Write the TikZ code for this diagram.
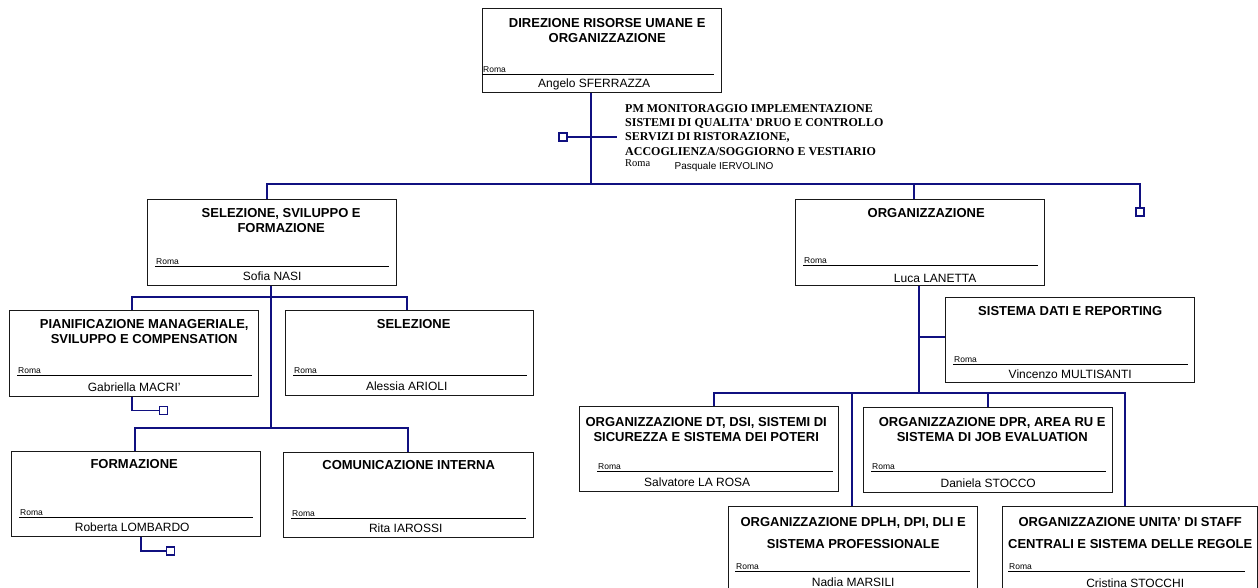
\documentclass[tikz,border=0pt]{standalone}
\usepackage{fontspec}
\setmainfont{Liberation Sans}
\newfontfamily\pmserif{Liberation Serif}
\definecolor{navy}{RGB}{16,16,128}
\tikzset{
 conn/.style={draw=navy, line width=1.4pt},
 obox/.style={draw=black!90, line width=1.4pt, inner sep=0pt},
 rulel/.style={draw=black, line width=1.3pt},
 romat/.style={font=\fontsize{8.5}{9}\selectfont, inner sep=0pt},
 namet/.style={font=\fontsize{12}{14}\selectfont, inner sep=0pt},
 titlet/.style={inner sep=0pt, align=center},
 pmt/.style={font=\pmserif\bfseries\fontsize{12}{14.3}\selectfont, align=left, inner sep=0pt},
 sqr/.style={draw=navy, line width=1.4pt, minimum size=8pt, inner sep=0pt, fill=white},
}
\newcommand\orgbox[8][]{%
 \begingroup
 \def\obrl{8}\def\obrr{7}\def\obro{20}\def\obtx{0}\def\obts{14}\def\obtb{15}\def\obnx{0}\def\obny{6}#1%
 \node[obox, anchor=north west, minimum width={(#5-#3)*1pt}, minimum height={(#6-#4)*1pt}] (#2) at (#3,#4) {};
 \node[titlet, anchor=north, font={\fontsize{13}{\obtb}\selectfont\bfseries}] (#2-t) at ([xshift=\obtx pt, yshift={(4.65-\obts)*1pt}]#2.north) {#7};
 \draw[rulel] ([xshift=\obrl pt, yshift=\obro pt]#2.south west) -- ([xshift=-\obrr pt, yshift=\obro pt]#2.south east);
 \node[romat, anchor=base west] (#2-r) at ([xshift={(\obrl+1)*1pt}, yshift={(\obro+2)*1pt}]#2.south west) {Roma};
 \node[namet, anchor=base] (#2-n) at ([xshift=\obnx pt, yshift=\obny pt]#2.south) {#8};
 \endgroup}
\begin{document}
\begin{tikzpicture}[x=1pt,y=-1pt]
\useasboundingbox (0,0) rectangle (1258,588);
\clip (0,0) rectangle (1258,588);

% boxes
\orgbox[\def\obrl{0}\def\obrr{8}\def\obts{15}\def\obtx{5}\def\obnx{-8}\def\obro{19}]{dir}{482}{8}{721}{92}{DIREZIONE RISORSE UMANE E\\ORGANIZZAZIONE}{Angelo SFERRAZZA}
\orgbox[\def\obtx{9}\def\obrr{8}]{svil}{147}{199}{396}{285}{SELEZIONE, SVILUPPO E\\FORMAZIONE}{Sofia NASI}
\orgbox[\def\obtx{10}\def\obro{22}]{pian}{9}{310}{258}{396}{PIANIFICAZIONE MANAGERIALE,\\SVILUPPO E COMPENSATION}{Gabriella MACRI'}
\orgbox[\def\obtx{4}\def\obnx{-3}\def\obro{21}]{selz}{285}{310}{533}{395}{SELEZIONE}{Alessia ARIOLI}
\orgbox[\def\obtx{-2}\def\obnx{-4}\def\obts{13}\def\obrr{8}]{form}{11}{451}{260}{536}{FORMAZIONE}{Roberta LOMBARDO}
\orgbox[\def\obts{13}\def\obrr{8}\def\obnx{-3}]{com}{283}{452}{533}{537}{COMUNICAZIONE INTERNA}{Rita IAROSSI}
\orgbox[\def\obtx{6}\def\obnx{15}\def\obro{21}\def\obny{4}]{org}{795}{199}{1044}{285}{ORGANIZZAZIONE}{Luca LANETTA}
\orgbox[\def\obro{19}\def\obny{5}]{sist}{945}{297}{1194}{382}{SISTEMA DATI E REPORTING}{Vincenzo MULTISANTI}
\orgbox[\def\obrl{18}\def\obrr{6}\def\obts{16}\def\obtx{-3}\def\obnx{-12}\def\obro{21}]{dt}{579}{406}{838}{491}{ORGANIZZAZIONE DT, DSI, SISTEMI DI\\SICUREZZA E SISTEMA DEI POTERI}{Salvatore LA ROSA}
\orgbox[\def\obts{15}\def\obtx{4}\def\obro{22}]{dpr}{863}{407}{1112}{492}{ORGANIZZAZIONE DPR, AREA RU E\\SISTEMA DI JOB EVALUATION}{Daniela STOCCO}
\orgbox[\def\obrl{7}\def\obrr{8}\def\obts{16}\def\obtb{22}\def\obro{22}\def\obny{7}]{dplh}{728}{506}{977}{592}{ORGANIZZAZIONE DPLH, DPI, DLI E\\SISTEMA PROFESSIONALE}{Nadia MARSILI}
\orgbox[\def\obrl{6}\def\obrr{13}\def\obts{16}\def\obtb{21.5}\def\obro{22}\def\obny{5.5}\def\obnx{5}]{unita}{1002}{506}{1257}{592}{ORGANIZZAZIONE UNITA' DI STAFF\\CENTRALI E SISTEMA DELLE REGOLE}{Cristina STOCCHI}

% PM staff text
\node[pmt, anchor=north west] (pm) at (625,104) {PM MONITORAGGIO IMPLEMENTAZIONE\\SISTEMI DI QUALITA' DRUO E CONTROLLO\\SERVIZI DI RISTORAZIONE,\\ACCOGLIENZA/SOGGIORNO E VESTIARIO};
\node[font=\pmserif\fontsize{10.5}{12}\selectfont, anchor=base west, inner sep=0pt] (pm-r) at (625,166.5) {Roma};
\node[namet, font=\fontsize{10}{12}\selectfont, anchor=base] (pm-n) at (724,170) {Pasquale IERVOLINO};

% small squares
\node[sqr] (sq0) at (563,137) {};
\node[sqr] (sq1) at (1140,212) {};
\node[sqr] (sq2) at (163.5,410.5) {};
\node[sqr] (sq3) at (170.5,551) {};

% top level
\coordinate (j0) at (591,184);
\coordinate (busL) at (267,184);
\coordinate (busR) at (1140,184);
\coordinate (jorg) at (914,184);
\coordinate (pmj) at (617,137);
\draw[conn] (dir.south -| j0) -- (j0);
\draw[conn] (svil.north -| busL) -- (busL) -- (busR) -- (sq1.north);
\draw[conn] (jorg) -- (org.north -| jorg);
\draw[conn] (sq0.east) -- (pmj);

% left subtree
\coordinate (sj) at (271,297);
\coordinate (sj2) at (271,428);
\coordinate (b1L) at (132,297);
\coordinate (b1R) at (407,297);
\coordinate (b2L) at (135,428);
\coordinate (b2R) at (408,428);
\coordinate (pj) at (132,410.5);
\coordinate (fj) at (141,551);
\draw[conn] (svil.south -| sj) -- (sj2);
\draw[conn] (pian.north -| b1L) -- (b1L) -- (b1R) -- (selz.north -| b1R);
\draw[conn] (form.north -| b2L) -- (b2L) -- (b2R) -- (com.north -| b2R);
\draw[conn] (pian.south -| pj) -- (pj) -- (sq2.west);
\draw[conn] (form.south -| fj) -- (fj) -- (sq3.west);

% right subtree
\coordinate (oj) at (919,393);
\coordinate (sj3) at (919,337);
\coordinate (r1) at (714,393);
\coordinate (r2) at (852,393);
\coordinate (r3) at (988,393);
\coordinate (r4) at (1125,393);
\draw[conn] (org.south -| oj) -- (oj);
\draw[conn] (sj3) -- (sist.west |- sj3);
\draw[conn] (dt.north -| r1) -- (r1) -- (r4) -- (unita.north -| r4);
\draw[conn] (r2) -- (dplh.north -| r2);
\draw[conn] (r3) -- (dpr.north -| r3);
\end{tikzpicture}
\end{document}
